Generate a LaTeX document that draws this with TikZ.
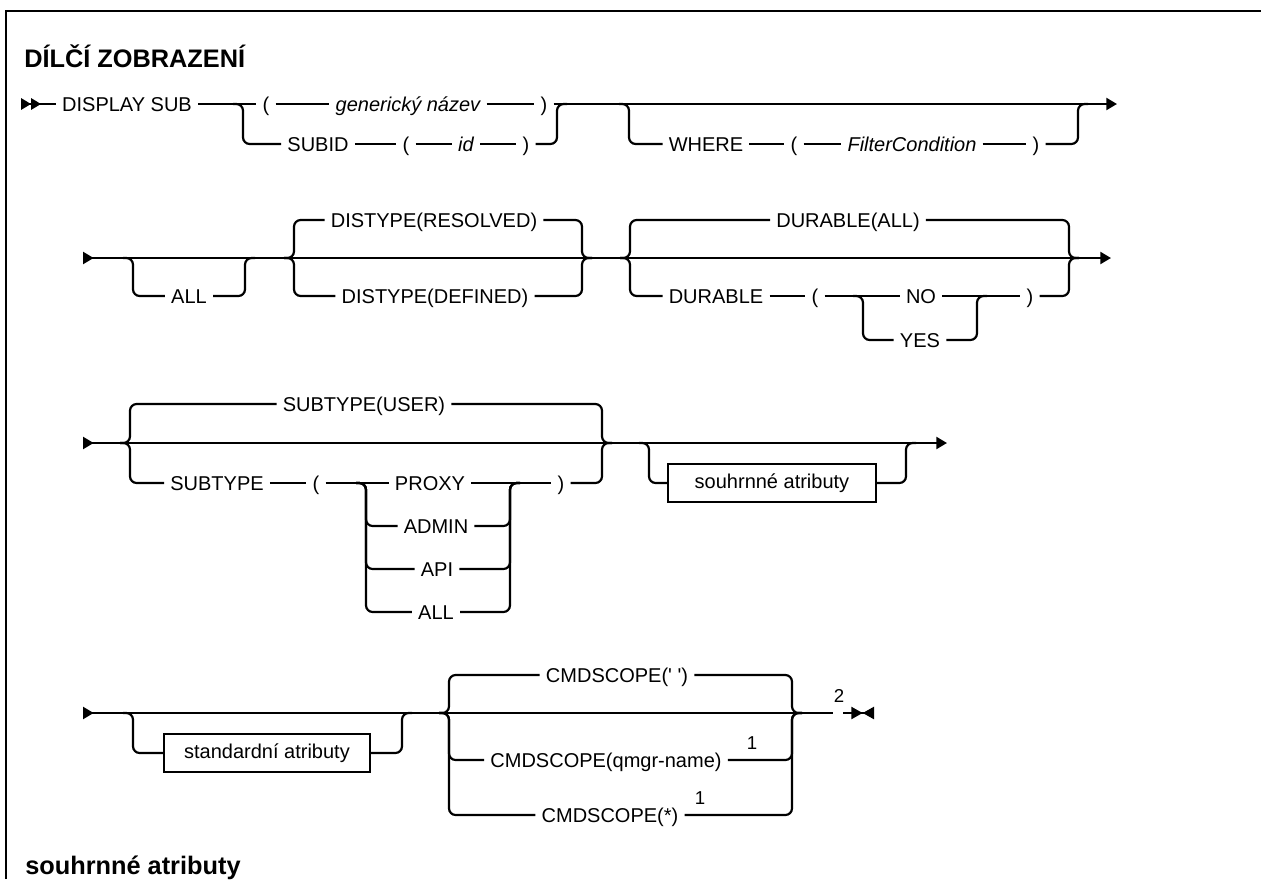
\documentclass[tikz,border=0pt]{standalone}
\usepackage{fontspec}
\setmainfont{Liberation Sans}
\usetikzlibrary{arrows.meta, calc}
\tikzset{
  rail/.style={line width=1.65pt},
  branch/.style={rail, rounded corners=5pt},
  kw/.style={font=\fontsize{15}{18}\selectfont, inner xsep=4.5pt, inner ysep=0pt,
             text height=10.7pt, text depth=0pt},
  var/.style={kw, font=\fontsize{15}{18}\selectfont\itshape},
  refbox/.style={draw, line width=1.4pt, font=\fontsize{15}{18}\selectfont,
                 minimum height=28.5pt, inner xsep=4pt},
  note/.style={font=\fontsize{14}{16}\selectfont, inner sep=0pt},
  head/.style={font=\bfseries\fontsize{19}{23}\selectfont, anchor=base west, inner sep=0pt},
  frame/.style={line width=1.9pt},
}
\newcommand{\splitto}[2]{\draw[branch] ($(#1)+(-10,0)$) -| (#1 |- #2) -- (#2);}
\newcommand{\joinfrom}[2]{\draw[branch] (#1) -| (#2) -- ($(#2)+(10,0)$);}

\begin{document}
\begin{tikzpicture}[x=0.75pt, y=-0.75pt,
    >={Triangle[length=8pt, width=9pt]}]
  \useasboundingbox (0,0) rectangle (1261,879);
  \draw[frame] (6,879) -- (6,11) -- (1261,11);
  \node[head] (title) at (24,67) {DÍLČÍ ZOBRAZENÍ};
  \node[head] (subtitle) at (25,874) {souhrnné atributy};

  % row 1
  \coordinate (r1s) at (21,104);
  \coordinate (r1e) at (1117,104);
  \coordinate (s1) at (243,104);
  \coordinate (j1) at (557,104);
  \coordinate (w1) at (629,104);
  \coordinate (w2) at (1078,104);
  \node[kw] (disp) at (127,104) {DISPLAY SUB};
  \node[kw] (lp1) at (266,104) {(};
  \node[var] (gname) at (408,104) {generický název};
  \node[kw] (rp1) at (544,104) {)};
  \node[kw] (subid) at (318,144) {SUBID};
  \node[kw] (lp2) at (406,144) {(};
  \node[var] (idn) at (466,144) {id};
  \node[kw] (rp2) at (526,144) {)};
  \node[kw] (where) at (706,144) {WHERE};
  \node[kw] (lp3) at (794,144) {(};
  \node[var] (fcond) at (912,144) {FilterCondition};
  \node[kw] (rp3) at (1036,144) {)};
  \draw[rail, {Triangle[reversed, length=7.5pt, width=8.5pt] Triangle[reversed, length=7.5pt, width=8.5pt]}-] (r1s) -- (disp);
  \draw[rail] (disp) -- (lp1) -- (gname) -- (rp1);
  \draw[rail, ->] (rp1) -- (r1e);
  \splitto{s1}{subid}
  \draw[rail] (subid) -- (lp2) -- (idn) -- (rp2);
  \joinfrom{rp2}{j1}
  \splitto{w1}{where}
  \draw[rail] (where) -- (lp3) -- (fcond) -- (rp3);
  \joinfrom{rp3}{w2}

  % row 2
  \coordinate (r2s) at (83,258);
  \coordinate (r2e) at (1111,258);
  \coordinate (a1) at (133,258);
  \coordinate (a2) at (245,258);
  \coordinate (d1) at (294,258);
  \coordinate (d2) at (582,258);
  \coordinate (u1) at (630,258);
  \coordinate (u2) at (1069,258);
  \coordinate (n1) at (863,296);
  \coordinate (n2) at (977,296);
  \node[kw] (allb) at (189,296) {ALL};
  \node[kw] (dres) at (434,220) {DISTYPE(RESOLVED)};
  \node[kw] (ddef) at (435,296) {DISTYPE(DEFINED)};
  \node[kw] (dall) at (848,220) {DURABLE(ALL)};
  \node[kw] (dur) at (716,296) {DURABLE};
  \node[kw] (lp4) at (815,296) {(};
  \node[kw] (dno) at (921,296) {NO};
  \node[kw] (dyes) at (920,340) {YES};
  \node[kw] (rp4) at (1030,296) {)};
  \draw[rail, {Triangle[reversed, length=8pt, width=9pt]}->] (r2s) -- (r2e);
  \splitto{a1}{allb}
  \joinfrom{allb}{a2}
  \splitto{d1}{dres}
  \joinfrom{dres}{d2}
  \splitto{d1}{ddef}
  \joinfrom{ddef}{d2}
  \splitto{u1}{dall}
  \joinfrom{dall}{u2}
  \splitto{u1}{dur}
  \draw[rail] (dur) -- (lp4) -- (dno) -- (rp4);
  \joinfrom{rp4}{u2}
  \splitto{n1}{dyes}
  \joinfrom{dyes}{n2}

  % row 3
  \coordinate (r3s) at (83,443);
  \coordinate (r3e) at (947,443);
  \coordinate (t1) at (130,443);
  \coordinate (t2) at (602,443);
  \coordinate (p1) at (366,483);
  \coordinate (p2) at (510,483);
  \coordinate (o1) at (649,443);
  \coordinate (o2) at (906,443);
  \node[kw] (suser) at (364,404) {SUBTYPE(USER)};
  \node[kw] (stype) at (217,483) {SUBTYPE};
  \node[kw] (lp5) at (316,483) {(};
  \node[kw] (proxy) at (430,483) {PROXY};
  \node[kw] (admin) at (436,526) {ADMIN};
  \node[kw] (api) at (437,569) {API};
  \node[kw] (sall) at (436,612) {ALL};
  \node[kw] (rp5) at (561,483) {)};
  \node[refbox, minimum width=156pt] (summ) at (772,483) {souhrnné atributy};
  \draw[rail, {Triangle[reversed, length=8pt, width=9pt]}->] (r3s) -- (r3e);
  \splitto{t1}{suser}
  \joinfrom{suser}{t2}
  \splitto{t1}{stype}
  \draw[rail] (stype) -- (lp5) -- (proxy) -- (rp5);
  \joinfrom{rp5}{t2}
  \splitto{p1}{admin}
  \joinfrom{admin}{p2}
  \splitto{p1}{api}
  \joinfrom{api}{p2}
  \splitto{p1}{sall}
  \joinfrom{sall}{p2}
  \splitto{o1}{summ}
  \joinfrom{summ}{o2}

  % row 4
  \coordinate (r4s) at (83,713);
  \coordinate (r4g) at (833,713);
  \coordinate (r4h) at (843,713);
  \coordinate (r4e) at (874,713);
  \coordinate (b1) at (133,713);
  \coordinate (b2) at (402,713);
  \coordinate (c1) at (449,713);
  \coordinate (c2) at (792,713);
  \node[refbox, minimum width=154.5pt] (stdat) at (267,753) {standardní atributy};
  \node[kw] (cblank) at (617,675) {CMDSCOPE(\textquotesingle\ \textquotesingle)};
  \node[kw] (cqmgr) at (606,760) {CMDSCOPE(qmgr-name)};
  \node[kw] (cstar) at (610,815) {CMDSCOPE(*)};
  \node[note] (fn1a) at (752,743) {1};
  \node[note] (fn1b) at (700,798) {1};
  \node[note] (fn2) at (839,696) {2};
  \draw[rail, {Triangle[reversed, length=8pt, width=9pt]}-] (r4s) -- (r4g);
  \draw[rail, -{Triangle[length=8.5pt, width=9pt] Triangle[reversed, length=8.5pt, width=9pt]}] (r4h) -- (r4e);
  \splitto{b1}{stdat}
  \joinfrom{stdat}{b2}
  \splitto{c1}{cblank}
  \joinfrom{cblank}{c2}
  \splitto{c1}{cqmgr}
  \joinfrom{cqmgr}{c2}
  \splitto{c1}{cstar}
  \joinfrom{cstar}{c2}
\end{tikzpicture}
\end{document}
